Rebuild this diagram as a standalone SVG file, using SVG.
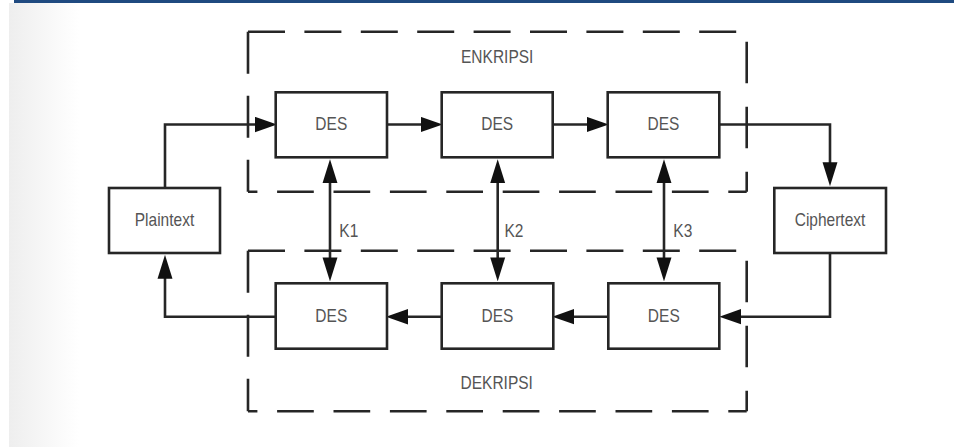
<svg xmlns="http://www.w3.org/2000/svg" width="954" height="447" viewBox="0 0 954 447">
<style>
.box{fill:#fff;stroke:#262626;stroke-width:2.6}
.lbl{font-family:"Liberation Sans",Arial,sans-serif;font-size:15.5px;fill:#555;text-anchor:middle}
.klbl{font-family:"Liberation Sans",Arial,sans-serif;font-size:15.5px;fill:#555;text-anchor:start}
.con{fill:none;stroke:#262626;stroke-width:2.6}
.dh{fill:none;stroke:#262626;stroke-width:2.6;stroke-dasharray:37 19.4}
.dv{fill:none;stroke:#262626;stroke-width:2.6;stroke-dasharray:42 22}
</style>
<defs>
<linearGradient id="side" x1="0" y1="0" x2="1" y2="0">
<stop offset="0" stop-color="#eeeeee"/>
<stop offset="1" stop-color="#ffffff"/>
</linearGradient>
<marker id="ah" markerUnits="userSpaceOnUse" markerWidth="22" markerHeight="16" viewBox="0 0 20 14" refX="10" refY="7" orient="auto-start-reverse">
<path d="M0,0 L20,7 L0,14 z" fill="#111"/>
</marker>
<marker id="av" markerUnits="userSpaceOnUse" markerWidth="24" markerHeight="16" viewBox="0 0 22.5 14" refX="12.5" refY="7" orient="auto-start-reverse">
<path d="M0,0 L22.5,7 L0,14 z" fill="#111"/>
</marker>
</defs>
<rect x="0" y="0" width="954" height="447" fill="#fff"/>
<rect x="9" y="3" width="70" height="444" fill="url(#side)"/>
<rect x="14" y="0" width="940" height="3" fill="#1f4a80"/>

<g id="enkripsi-group">
<line class="dh" x1="248" y1="31.7" x2="746.7" y2="31.7"/>
<line class="dv" x1="746.7" y1="31.7" x2="746.7" y2="191.7" style="stroke-dasharray:41.6 23.4;stroke-dashoffset:55"/>
<line class="dh" x1="746.7" y1="191.7" x2="248" y2="191.7" style="stroke-dasharray:36.7 19.7;stroke-dashoffset:18.3"/>
<line class="dv" x1="248" y1="31.7" x2="248" y2="191.7"/>
<text class="lbl" transform="translate(497.2,63.3) scale(1,1.2)">ENKRIPSI</text>
</g>

<g id="dekripsi-group">
<line class="dh" x1="248" y1="250.7" x2="746.7" y2="250.7"/>
<line class="dv" x1="746.7" y1="250.7" x2="746.7" y2="411.3" style="stroke-dasharray:41.6 23.4;stroke-dashoffset:55"/>
<line class="dh" x1="746.7" y1="411.3" x2="248" y2="411.3" style="stroke-dasharray:36.7 19.7;stroke-dashoffset:18.3"/>
<line class="dv" x1="248" y1="250.7" x2="248" y2="411.3"/>
<text class="lbl" transform="translate(496.7,389.3) scale(1,1.2)">DEKRIPSI</text>
</g>

<g id="connectors">
<path class="con" d="M165,188 V124.5 H266" marker-end="url(#ah)"/>
<path class="con" d="M387,124.5 H431.7" marker-end="url(#ah)"/>
<path class="con" d="M552.7,124.5 H597.7" marker-end="url(#ah)"/>
<path class="con" d="M719.3,124.5 H830 V175.5" marker-end="url(#av)"/>
<path class="con" d="M830,253 V316.7 H730.3" marker-end="url(#ah)"/>
<path class="con" d="M608.3,316.7 H563.3" marker-end="url(#ah)"/>
<path class="con" d="M441.7,316.7 H397" marker-end="url(#ah)"/>
<path class="con" d="M275.7,316.7 H165 V265.5" marker-end="url(#av)"/>
<path class="con" d="M330,169.8 V270.8" marker-start="url(#av)" marker-end="url(#av)"/>
<path class="con" d="M497.7,169.8 V270.8" marker-start="url(#av)" marker-end="url(#av)"/>
<path class="con" d="M664,169.8 V270.8" marker-start="url(#av)" marker-end="url(#av)"/>
<text class="klbl" transform="translate(339.3,236.7) scale(1,1.2)">K1</text>
<text class="klbl" transform="translate(504.5,236.7) scale(1,1.2)">K2</text>
<text class="klbl" transform="translate(673.3,236.7) scale(1,1.2)">K3</text>
</g>

<g id="plaintext">
<rect class="box" x="109" y="188" width="111" height="65"/>
<text class="lbl" transform="translate(164.5,225.7) scale(1,1.2)">Plaintext</text>
</g>
<g id="ciphertext">
<rect class="box" x="774.3" y="188" width="111.7" height="65"/>
<text class="lbl" transform="translate(830,225.7) scale(1,1.2)">Ciphertext</text>
</g>
<g id="des-e1">
<rect class="box" x="275.7" y="92.3" width="111.3" height="65"/>
<text class="lbl" transform="translate(331.3,130) scale(1,1.2)">DES</text>
</g>
<g id="des-e2">
<rect class="box" x="441.7" y="92.3" width="111" height="65"/>
<text class="lbl" transform="translate(497.2,130) scale(1,1.2)">DES</text>
</g>
<g id="des-e3">
<rect class="box" x="607.7" y="92.3" width="111.6" height="65"/>
<text class="lbl" transform="translate(663.5,130) scale(1,1.2)">DES</text>
</g>
<g id="des-d1">
<rect class="box" x="275.7" y="283.3" width="111.3" height="65.4"/>
<text class="lbl" transform="translate(331.3,321.7) scale(1,1.2)">DES</text>
</g>
<g id="des-d2">
<rect class="box" x="441.7" y="283.3" width="111.6" height="65.4"/>
<text class="lbl" transform="translate(497.5,321.7) scale(1,1.2)">DES</text>
</g>
<g id="des-d3">
<rect class="box" x="608.3" y="283.3" width="111" height="65.4"/>
<text class="lbl" transform="translate(663.8,321.7) scale(1,1.2)">DES</text>
</g>
</svg>
